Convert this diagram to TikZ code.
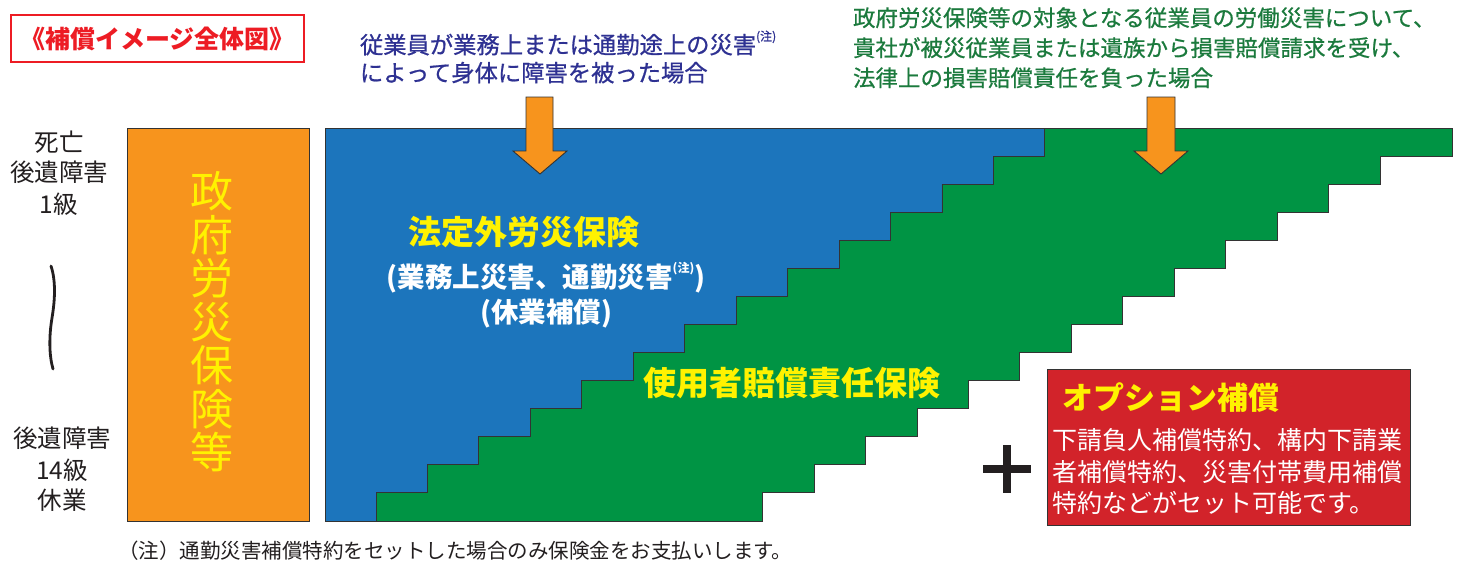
\documentclass[tikz,border=0pt]{standalone}
\usepackage{fontspec}
\setmainfont{Noto Sans CJK JP}
\newfontfamily\jpmed[FakeBold=0.7]{Noto Sans CJK JP}
\definecolor{orangeF}{HTML}{F7941D}
\definecolor{blueF}{HTML}{1C75BC}
\definecolor{greenF}{HTML}{009444}
\definecolor{redF}{HTML}{D2232A}
\definecolor{yel}{HTML}{FFF200}
\definecolor{navy}{HTML}{2E3192}
\definecolor{gtext}{HTML}{1B7A3D}
\definecolor{tred}{HTML}{ED1C24}
\definecolor{outl}{HTML}{333333}
\definecolor{ink}{HTML}{231F20}
\newcommand\mynote[1]{\raisebox{0.55em}{\fontsize{#1}{#1}\selectfont (注)}}
\newcommand\fs[1]{\fontsize{#1}{#1}\selectfont}
\begin{document}
\begin{tikzpicture}[x=1pt,y=-1pt,
  txt/.style={inner sep=0pt, outer sep=0pt},
  shapeline/.style={draw=outl, line width=0.9pt},
  arrowshape/.style={fill=orangeF, draw=outl, line width=0.9pt, line join=miter}]
\useasboundingbox[fill=white] (0,0) rectangle (1462,563);

% title box
\node (title) [draw=tred, line width=1.8pt, minimum width=293pt, minimum height=47pt, inner sep=0pt,
  text=tred, font=\fs{25}\bfseries] at (157.5,38.5) {《補償イメージ全体図》};

% top texts
\node (blue1) [txt, anchor=base west, text=navy, font=\jpmed\fs{23.3}] at (360,53.5) {従業員が業務上または通勤途上の災害\mynote{12}};
\node (blue2) [txt, anchor=base west, text=navy, font=\jpmed\fs{23.3}] at (360,81.5) {によって身体に障害を被った場合};
\node (green1) [txt, anchor=base west, text=gtext, font=\jpmed\fs{22.5}] at (853,26.3) {政府労災保険等の対象となる従業員の労働災害について、};
\node (green2) [txt, anchor=base west, text=gtext, font=\jpmed\fs{22.5}] at (853,56.3) {貴社が被災従業員または遺族から損害賠償請求を受け、};
\node (green3) [txt, anchor=base west, text=gtext, font=\jpmed\fs{22.5}] at (853,86.3) {法律上の損害賠償責任を負った場合};

% left labels
\node (l1) [txt, anchor=base, text=ink, font=\fs{24.5}] at (59,151) {死亡};
\node (l2) [txt, anchor=base, text=ink, font=\fs{24.5}] at (59,181) {後遺障害};
\node (l3) [txt, anchor=base, text=ink, font=\fs{24.5}] at (59,213) {1級};
\node (l4) [txt, anchor=base, text=ink, font=\fs{24.5}] at (62,447) {後遺障害};
\node (l5) [txt, anchor=base, text=ink, font=\fs{24.5}] at (62,479) {14級};
\node (l6) [txt, anchor=base, text=ink, font=\fs{24.5}] at (62,509) {休業};
\draw[ink, line width=2.8pt, line cap=round]
  (51,266) .. controls (56,281) and (55,300) .. (52,318) .. controls (49,336) and (49,355) .. (53,369);

% orange box
\node (gov) [shapeline, fill=orangeF, anchor=north west, minimum width=182pt, minimum height=393pt, inner sep=0pt] at (127,128) {};
\node (govtext) [txt, text=yel, font=\fs{43}, align=center] at (212,322)
  {政\\[0.5pt]府\\[0.5pt]労\\[0.5pt]災\\[0.5pt]保\\[0.5pt]険\\[0.5pt]等};

% blue area
\filldraw[fill=blueF, draw=outl, line width=0.9pt]
  (325,521) -- (376,521) |- (427.45,492.93) |- (478.9,464.86) |- (530.35,436.79) |- (581.8,408.72)
  |- (633.25,380.65) |- (684.7,352.58) |- (736.15,324.51) |- (787.6,296.44)
  |- (839.05,268.37) |- (890.5,240.30) |- (941.95,212.23) |- (993.4,184.16)
  |- (1044.85,156.09) -- (1044.85,128) -- (325,128) -- cycle;

% green staircase
\filldraw[fill=greenF, draw=outl, line width=0.9pt]
  (376,521) |- (427.45,492.93) |- (478.9,464.86) |- (530.35,436.79) |- (581.8,408.72)
  |- (633.25,380.65) |- (684.7,352.58) |- (736.15,324.51) |- (787.6,296.44)
  |- (839.05,268.37) |- (890.5,240.30) |- (941.95,212.23) |- (993.4,184.16)
  |- (1044.85,156.09) |- (1452,128)
  |- (1380,156.09) |- (1328.55,184.16) |- (1277.1,212.23) |- (1225.65,240.30)
  |- (1174.2,268.37) |- (1122.75,296.44) |- (1071.3,324.51) |- (1019.85,352.58)
  |- (968.4,380.65) |- (916.95,408.72) |- (865.5,436.79) |- (814.05,464.86)
  |- (762.6,492.93) |- (376,521) -- cycle;

% arrows
\filldraw[arrowshape] (526,97) -- (553,97) -- (553,151) -- (567,151) -- (540,174) -- (513,151) -- (526,151) -- cycle;
\filldraw[arrowshape] (1147,97) -- (1175,97) -- (1175,151) -- (1188,151) -- (1161,174) -- (1134,151) -- (1147,151) -- cycle;

% blue texts
\node (hoteigai) [txt, anchor=base, text=yel, font=\fs{33}\bfseries] at (524,244) {法定外労災保険};
\node (gyomu) [txt, anchor=base, text=white, font=\fs{27.5}\bfseries] at (546,287.6) {(業務上災害、通勤災害\mynote{12})};
\node (kyugyo) [txt, anchor=base, text=white, font=\fs{27.5}\bfseries] at (546,322.6) {(休業補償)};

% green text
\node (shiyosha) [txt, anchor=base, text=yel, font=\fs{33}\bfseries] at (792,395) {使用者賠償責任保険};

% plus
\draw[ink, line width=8pt] (983,469) -- (1031,469);
\draw[ink, line width=8pt] (1007,445) -- (1007,493);

% option box
\node (opt) [shapeline, fill=redF, anchor=north west, minimum width=363pt, minimum height=156pt, inner sep=0pt] at (1047,369) {};
\node (opttitle) [txt, anchor=base west, text=yel, font=\fs{31}\bfseries] at (1062,409.5) {オプション補償};
\node (opt1) [txt, anchor=base west, text=white, font=\fs{25}] at (1052,449.4) {下請負人補償特約、構内下請業};
\node (opt2) [txt, anchor=base west, text=white, font=\fs{25}] at (1052,481.4) {者補償特約、災害付帯費用補償};
\node (opt3) [txt, anchor=base west, text=white, font=\fs{25}] at (1052,512.4) {特約などがセット可能です。};

% footnote
\node (foot) [txt, anchor=base west, text=ink, font=\fs{20.5}] at (118,558.6) {（注）通勤災害補償特約をセットした場合のみ保険金をお支払いします。};
\end{tikzpicture}
\end{document}
